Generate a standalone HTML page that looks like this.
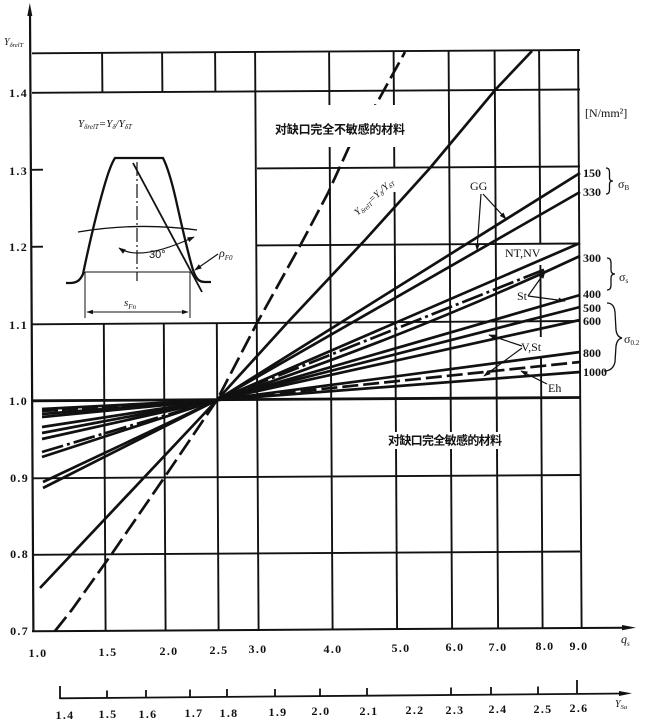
<!DOCTYPE html>
<html><head><meta charset="utf-8"><style>
html,body{margin:0;padding:0;background:#fff;}
svg{display:block;}
.n{font-family:"Liberation Serif",serif;font-weight:bold;font-size:12px;letter-spacing:1.3px;fill:#111;}
.r{font-family:"Liberation Serif",serif;font-weight:bold;font-size:12px;fill:#111;}
.t{font-family:"Liberation Serif",serif;font-size:12px;fill:#111;}
.i{font-family:"Liberation Serif",serif;font-style:italic;fill:#111;}
.cn{font-family:"Liberation Sans","Noto Sans CJK SC",sans-serif;font-weight:bold;font-size:12px;fill:#111;}
</style></head><body>
<svg width="650" height="726" viewBox="0 0 650 726" xmlns="http://www.w3.org/2000/svg">
<defs>
<marker id="ah" viewBox="0 0 10 10" refX="9" refY="5" markerWidth="7" markerHeight="6" orient="auto-start-reverse"><path d="M0,1.5 L10,5 L0,8.5 z" fill="#111"/></marker>
</defs>
<rect width="650" height="726" fill="#fff"/>

<!-- grid -->
<g stroke="#111" stroke-width="1.9" fill="none">
<line x1="32" y1="53.3" x2="580" y2="50"/>
<line x1="32" y1="92.8" x2="580" y2="89.5"/>
<line x1="257" y1="168.4" x2="580" y2="166.5"/>
<line x1="257" y1="245.4" x2="580" y2="243.5"/>
<line x1="32" y1="324.3" x2="580" y2="321"/>
<line x1="32" y1="478.3" x2="580" y2="475"/>
<line x1="32" y1="554.8" x2="580" y2="551.5"/>
<line x1="32" y1="400.8" x2="580" y2="397.5" stroke-width="2.8"/>
<line x1="32" y1="631.3" x2="626" y2="627.7" stroke-width="2"/>
<line x1="30" y1="12" x2="33.4" y2="631.3" stroke-width="2.2"/>
<line x1="32" y1="169.8" x2="43" y2="169.7"/>
<line x1="32" y1="246.8" x2="43" y2="246.7"/>
<!-- top row verticals -->
<line x1="102.1" y1="53" x2="102.4" y2="92"/>
<line x1="162.1" y1="53" x2="162.4" y2="92"/>
<line x1="215.1" y1="53" x2="215.4" y2="92"/>
<!-- lower verticals -->
<line x1="103.8" y1="324" x2="105.6" y2="631"/>
<line x1="163.8" y1="324" x2="165.6" y2="631"/>
<line x1="216.8" y1="324" x2="218.6" y2="631"/>
<line x1="255.1" y1="52.5" x2="258.6" y2="631"/>
<line x1="329.1" y1="52.5" x2="332.6" y2="630"/>
<line x1="393.6" y1="52" x2="394.3" y2="168"/>
<line x1="394.5" y1="192" x2="397.1" y2="630"/>
<line x1="448.6" y1="51" x2="452.1" y2="629"/>
<line x1="494.6" y1="51" x2="498.1" y2="629"/>
<line x1="539.1" y1="50.5" x2="540.3" y2="244"/>
<line x1="540.4" y1="265" x2="540.8" y2="337"/>
<line x1="541" y1="358" x2="542.6" y2="629"/>
<line x1="578.1" y1="50" x2="581.6" y2="628"/>
</g>
<polygon points="29.8,3 27.3,16 32.3,16" fill="#111"/>
<polygon points="636,627.6 622,625 622,630.2" fill="#111"/>

<!-- data lines -->
<g stroke="#111" stroke-width="2.7" fill="none" stroke-linejoin="round">
<polyline points="40,588 217,400 288,322 365,240 430,168 496,89 532,51"/>
<polyline points="55,631 71.7,610 111.7,554 164,478 217,400 257,323 301,244 328,193 349,147 378,101 405,52" stroke-dasharray="18 6"/>
<!-- right fan -->
<line x1="217" y1="400" x2="580" y2="173"/>
<line x1="217" y1="400" x2="580" y2="192"/>
<line x1="217" y1="400" x2="580" y2="243"/>
<line x1="217" y1="400" x2="546" y2="269" stroke-dasharray="22 4 3 4"/>
<path d="M217,400 Q405,338 580,256"/>
<line x1="217" y1="400" x2="580" y2="295"/>
<line x1="217" y1="400" x2="580" y2="307"/>
<line x1="217" y1="400" x2="580" y2="320"/>
<line x1="217" y1="400" x2="580" y2="352"/>
<line x1="217" y1="400" x2="580" y2="362" stroke-dasharray="16 5"/>
<line x1="217" y1="400" x2="580" y2="372"/>
<!-- left fan -->
<line x1="43" y1="488" x2="217" y2="400"/>
<line x1="43" y1="482" x2="217" y2="400"/>
<line x1="42" y1="457" x2="217" y2="400"/>
<line x1="42" y1="452" x2="217" y2="400" stroke-dasharray="22 4 3 4"/>
<line x1="42" y1="439" x2="217" y2="400"/>
<line x1="42" y1="433" x2="217" y2="400"/>
<line x1="42" y1="427" x2="217" y2="400"/>
<line x1="42" y1="417" x2="217" y2="400"/>
<line x1="42" y1="414" x2="217" y2="400"/>
<line x1="42" y1="411" x2="217" y2="400" stroke-dasharray="16 4"/>
<line x1="42" y1="409" x2="217" y2="400"/>
</g>

<!-- masks behind text -->
<rect x="270" y="105" width="140" height="42" fill="#fff"/>
<rect x="386" y="432" width="118" height="17" fill="#fff"/>

<!-- Chinese labels -->
<text class="cn" x="275" y="133.5" textLength="130" lengthAdjust="spacing">对缺口完全不敏感的材料</text>
<text class="cn" x="388" y="444.5" textLength="114" lengthAdjust="spacing">对缺口完全敏感的材料</text>

<!-- rotated label -->
<text class="i" font-size="10" x="374" y="200" text-anchor="middle" transform="rotate(-42 374 197)">Y<tspan font-size="6.5" dy="2">δrelT</tspan><tspan dy="-2">=Y</tspan><tspan font-size="6.5" dy="2">δ</tspan><tspan dy="-2">/Y</tspan><tspan font-size="6.5" dy="2">δT</tspan></text>

<!-- inset -->
<text class="i" font-size="11" x="78" y="127">Y<tspan font-size="7" dy="2">δrelT</tspan><tspan dy="-2">=Y</tspan><tspan font-size="7" dy="2">δ</tspan><tspan dy="-2">/Y</tspan><tspan font-size="7" dy="2">δT</tspan></text>
<g stroke="#111" fill="none">
<path d="M66,283 L70,283 C76,283 80,281 83,274 C88,250 96,215 104,187 C108,173 111,164 115,158 L163,158 C167,166 171,178 176,200 C181,222 187,250 193,270 C196,279 199,282 205,282 L211,282" stroke-width="2.3"/>
<path d="M78,232 Q137,222 197,230" stroke-width="1.3"/>
<line x1="85" y1="272" x2="190" y2="272" stroke-width="1.1"/>
<line x1="137" y1="162" x2="137" y2="281" stroke-width="1.2" stroke-dasharray="14 3 2 3"/>
<line x1="133" y1="163" x2="202" y2="292" stroke-width="1.8"/>
<path d="M119,248 Q140,262 194,237" stroke-width="1.2" marker-start="url(#ah)" marker-end="url(#ah)"/>
<line x1="218" y1="254" x2="195" y2="270" stroke-width="1.2" marker-end="url(#ah)"/>
<line x1="85" y1="272" x2="85" y2="318" stroke-width="1"/>
<line x1="190" y1="272" x2="190" y2="318" stroke-width="1"/>
<line x1="87" y1="312" x2="188" y2="312" stroke-width="1.1" marker-start="url(#ah)" marker-end="url(#ah)"/>
</g>
<text font-family="Liberation Sans,sans-serif" font-size="11" x="149" y="258" fill="#111">30°</text>
<text class="i" font-size="12" x="219" y="257">ρ<tspan font-size="7" dy="3">F0</tspan></text>
<text class="i" font-size="11" x="124" y="306">s<tspan font-size="7" dy="3">Fn</tspan></text>

<!-- axis title top-left -->
<text class="i" font-size="10" x="4" y="45">Y<tspan font-size="6.5" dy="2">δrelT</tspan></text>

<!-- y labels -->
<g class="n" text-anchor="end">
<text x="28" y="97">1.4</text>
<text x="28" y="175">1.3</text>
<text x="28" y="251">1.2</text>
<text x="28" y="329">1.1</text>
<text x="28" y="405">1.0</text>
<text x="29" y="482">0.9</text>
<text x="29" y="558">0.8</text>
<text x="29" y="635">0.7</text>
</g>

<!-- q_s labels -->
<g class="n" text-anchor="middle">
<text x="38" y="657">1.0</text>
<text x="108" y="656">1.5</text>
<text x="169" y="655">2.0</text>
<text x="219" y="654">2.5</text>
<text x="258" y="653">3.0</text>
<text x="333" y="653">4.0</text>
<text x="401" y="652">5.0</text>
<text x="455" y="651">6.0</text>
<text x="498" y="651">7.0</text>
<text x="545" y="650">8.0</text>
<text x="579" y="650">9.0</text>
</g>
<text class="i" font-size="12" x="621" y="643">q<tspan font-size="7" dy="3">s</tspan></text>

<!-- Y_Sa axis -->
<g stroke="#111" stroke-width="1.8" fill="none">
<line x1="60" y1="698.3" x2="626" y2="693.5"/>
<line x1="60" y1="686" x2="60" y2="699"/>
<line x1="107" y1="690.5" x2="107" y2="698"/>
<line x1="146" y1="690" x2="146" y2="697.6"/>
<line x1="190" y1="689.5" x2="190" y2="697.2"/>
<line x1="227" y1="689" x2="227" y2="697"/>
<line x1="275" y1="689" x2="275" y2="696.5"/>
<line x1="320" y1="688.5" x2="320" y2="696.1"/>
<line x1="367" y1="688" x2="367" y2="695.7"/>
<line x1="451" y1="687.5" x2="451" y2="695"/>
<line x1="491" y1="687" x2="491" y2="694.7"/>
<line x1="538" y1="686.5" x2="538" y2="694.3"/>
<line x1="577" y1="680" x2="577" y2="694"/>
</g>
<polygon points="632,693.4 619,691 619,696" fill="#111"/>
<g class="n" text-anchor="middle">
<text x="65" y="719">1.4</text>
<text x="108" y="718">1.5</text>
<text x="148" y="718">1.6</text>
<text x="194" y="717">1.7</text>
<text x="229" y="717">1.8</text>
<text x="278" y="716">1.9</text>
<text x="321" y="715">2.0</text>
<text x="369" y="715">2.1</text>
<text x="415" y="714">2.2</text>
<text x="455" y="714">2.3</text>
<text x="498" y="713">2.4</text>
<text x="543" y="713">2.5</text>
<text x="579" y="712">2.6</text>
</g>
<text class="i" font-size="10" x="615" y="707">Y<tspan font-size="6.5" dy="2">Sa</tspan></text>

<!-- right side labels -->
<text class="t" x="585" y="117">[N/mm²]</text>
<g class="r">
<text x="583" y="177">150</text>
<text x="583" y="196">330</text>
<text x="583" y="262">300</text>
<text x="583" y="298">400</text>
<text x="583" y="312">500</text>
<text x="583" y="325">600</text>
<text x="583" y="357">800</text>
<text x="583" y="376">1000</text>
</g>
<g stroke="#111" stroke-width="1.3" fill="none">
<path d="M606,168 Q609.5,168 609.5,172 L609.5,178 Q609.5,181 613,181 Q609.5,181 609.5,184 L609.5,190 Q609.5,194 606,194"/>
<path d="M607,258 Q611,258 611,263 L611,270 Q611,274 615,274 Q611,274 611,278 L611,285 Q611,290 607,290"/>
<path d="M607,303 Q614,303 615,312 L616,330 Q617,337 622,338 Q617,339 616,346 L615,362 Q613,371 604,371"/>
</g>
<text class="t" font-size="13" x="618" y="188">σ<tspan font-size="7" dy="2">B</tspan></text>
<text class="t" font-size="13" x="619" y="281">σ<tspan font-size="7" dy="2">s</tspan></text>
<text class="t" font-size="13" x="624" y="343">σ<tspan font-size="7" dy="2">0.2</tspan></text>

<!-- annotations -->
<text class="t" x="470" y="190">GG</text>
<text class="t" x="505" y="257">NT,NV</text>
<text class="t" x="517" y="300">St</text>
<text class="t" x="521" y="351">V,St</text>
<text class="t" x="548" y="392">Eh</text>
<g stroke="#111" stroke-width="1.2" fill="none">
<line x1="481" y1="194" x2="477" y2="250" marker-end="url(#ah)"/>
<line x1="483" y1="194" x2="506" y2="219" marker-end="url(#ah)"/>
<line x1="528" y1="296" x2="545" y2="272" marker-end="url(#ah)"/>
<line x1="528" y1="296" x2="565" y2="301" marker-end="url(#ah)"/>
<line x1="522" y1="346" x2="489" y2="335" marker-end="url(#ah)"/>
<line x1="522" y1="348" x2="484" y2="376" marker-end="url(#ah)"/>
<line x1="547" y1="384" x2="521" y2="371" marker-end="url(#ah)"/>
</g>
</svg>
</body></html>
